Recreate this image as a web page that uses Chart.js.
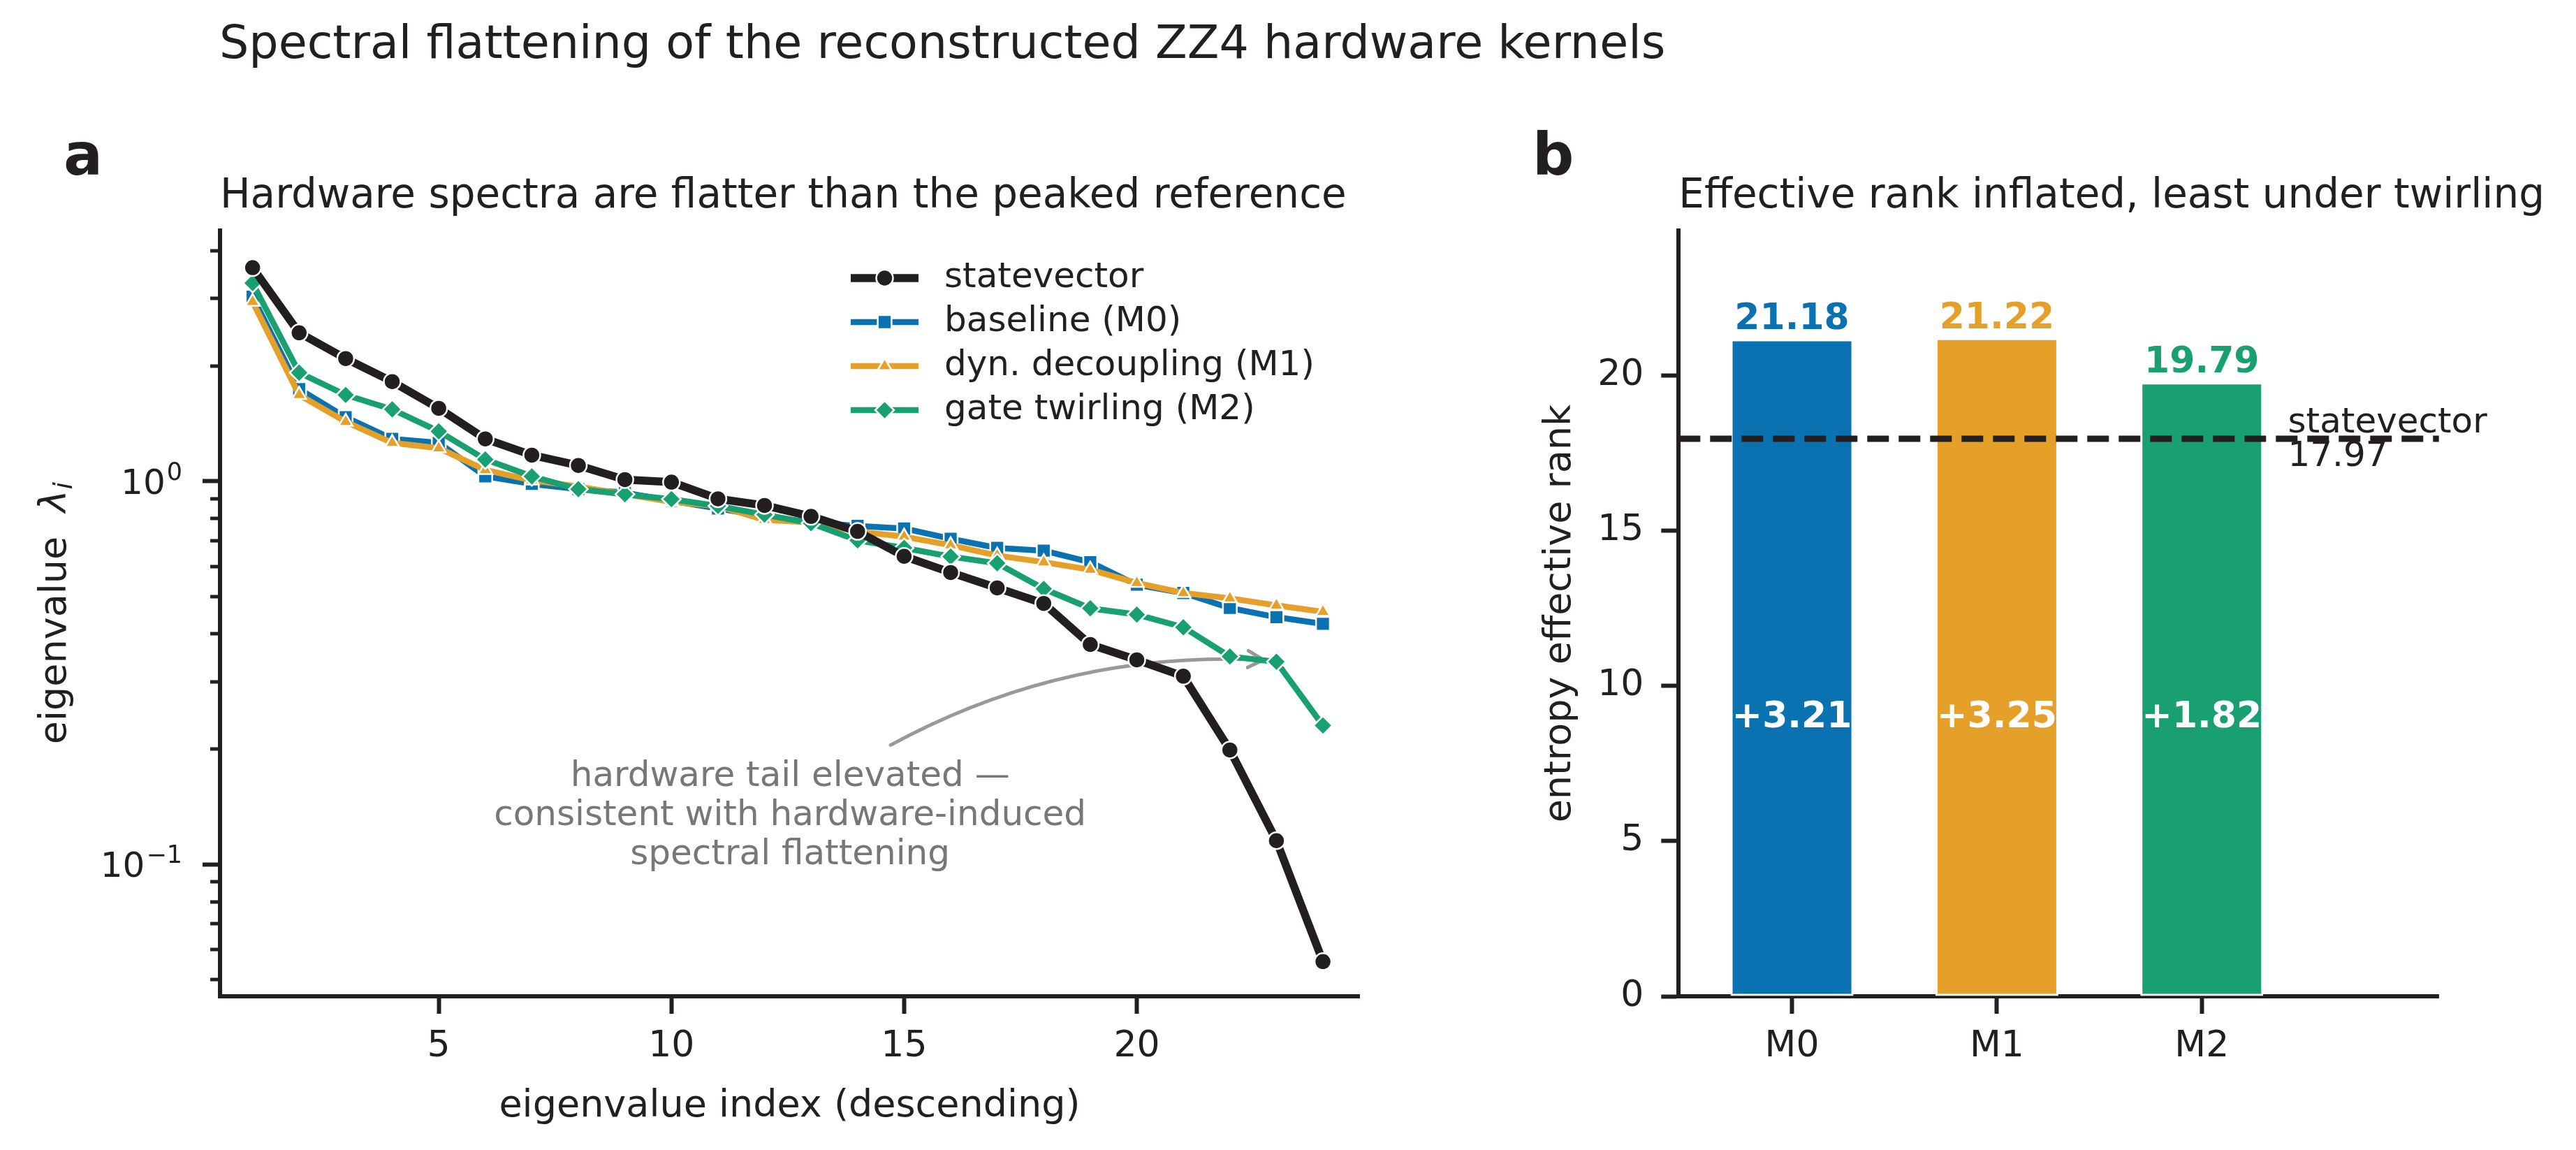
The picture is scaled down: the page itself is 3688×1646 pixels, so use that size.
<!DOCTYPE html>
<html>
<head>
<meta charset="utf-8">
<script src="https://cdn.jsdelivr.net/npm/chart.js@4.4.1/dist/chart.umd.min.js"></script>
<style>
  html, body { margin: 0; padding: 0; background: #fff; }
  #wrap { position: relative; width: 3688px; height: 1646px; }
  canvas { position: absolute; left: 0; top: 0; }
</style>
</head>
<body>
<div id="wrap">
  <canvas id="spectra" width="3688" height="1646"></canvas>
  <canvas id="rank" width="3688" height="1646"></canvas>
</div>
<script>
// eigenvalue spectra (panel a)
const eigIndex = [1, 2, 3, 4, 5, 6, 7, 8, 9, 10, 11, 12, 13, 14, 15, 16, 17, 18, 19, 20, 21, 22, 23, 24];
const statevector = [3.61, 2.44, 2.09, 1.82, 1.55, 1.29, 1.17, 1.10, 1.01, 0.995, 0.90, 0.865, 0.81, 0.74, 0.637, 0.578, 0.527, 0.48, 0.375, 0.342, 0.31, 0.199, 0.1154, 0.0558];
const baselineM0 = [3.03, 1.74, 1.47, 1.29, 1.26, 1.03, 0.984, 0.954, 0.934, 0.889, 0.849, 0.811, 0.781, 0.765, 0.753, 0.708, 0.670, 0.659, 0.615, 0.537, 0.511, 0.467, 0.442, 0.4245];
const decouplingM1 = [2.94, 1.68, 1.43, 1.26, 1.22, 1.07, 1.005, 0.969, 0.925, 0.884, 0.862, 0.793, 0.781, 0.739, 0.717, 0.681, 0.640, 0.615, 0.588, 0.543, 0.511, 0.495, 0.4745, 0.4565];
const twirlingM2 = [3.29, 1.92, 1.68, 1.54, 1.35, 1.14, 1.03, 0.954, 0.925, 0.898, 0.862, 0.818, 0.777, 0.701, 0.670, 0.636, 0.611, 0.524, 0.466, 0.449, 0.416, 0.349, 0.338, 0.2305];
const xTicksA = [5, 10, 15, 20];
const yTicksA = [0.05, 0.06, 0.07, 0.08, 0.09, 0.1, 0.2, 0.3, 0.4, 0.5, 0.6, 0.7, 0.8, 0.9, 1, 2, 3, 4];
const yMajorA = [0.1, 1];
const yMajorLabels = [['10', '\u22121'], ['10', '0']];

// effective rank (panel b)
const methods = ['M0', 'M1', 'M2'];
const effRank = [21.18, 21.22, 19.79];
const statevectorRank = 17.97;
const yTicksB = [0, 5, 10, 15, 20];

// annotation on panel a (data coords)
const noteLines = ['hardware tail elevated \u2014', 'consistent with hardware-induced', 'spectral flattening'];
const noteAt = {x: 12.55, y: 0.1266};
const arrowFrom = {x: 14.71, y: 0.205};
const arrowTo = {x: 22.72, y: 0.342};

const ink = '#231f20';
const blue = '#0b72b1', orange = '#e5a02a', green = '#18a070';
const FONT = "'DejaVu Sans'";

Chart.defaults.font.family = FONT;
Chart.defaults.color = ink;

const series = [
  {label: 'statevector', values: statevector, color: ink, width: 11.5, style: 'circle', r: 12, order: 0},
  {label: 'baseline (M0)', values: baselineM0, color: blue, width: 8.5, style: 'rect', r: 14, order: 3},
  {label: 'dyn. decoupling (M1)', values: decouplingM1, color: orange, width: 8.5, style: 'triangle', r: 11.5, order: 2},
  {label: 'gate twirling (M2)', values: twirlingM2, color: green, width: 8.5, style: 'rectRot', r: 13.5, order: 1}
];

function marker(ctx, s, x, y) {
  ctx.fillStyle = s.color;
  ctx.strokeStyle = '#fff';
  ctx.lineWidth = 2.5;
  Chart.helpers.drawPoint(ctx, {pointStyle: s.style, rotation: 0, radius: s.r, borderWidth: 2.5}, x, y);
}

const panelA = {
  id: 'panelA',
  beforeDatasetsDraw(chart) {
    const ctx = chart.ctx, xs = chart.scales.x, ys = chart.scales.y;
    // curved arrow (arc3-like)
    const p0 = {x: xs.getPixelForValue(arrowFrom.x), y: ys.getPixelForValue(arrowFrom.y)};
    const p2 = {x: xs.getPixelForValue(arrowTo.x), y: ys.getPixelForValue(arrowTo.y)};
    const rad = -0.14;
    const dx = p2.x - p0.x, dy = p2.y - p0.y;
    const c = {x: (p0.x + p2.x) / 2 - rad * dy, y: (p0.y + p2.y) / 2 + rad * dx};
    ctx.save();
    ctx.strokeStyle = '#999999';
    ctx.lineWidth = 5;
    ctx.lineCap = 'round';
    ctx.beginPath();
    ctx.moveTo(p0.x, p0.y);
    ctx.quadraticCurveTo(c.x, c.y, p2.x, p2.y);
    ctx.stroke();
    const ang = Math.atan2(p2.y - c.y, p2.x - c.x);
    const hl = 25;
    ctx.beginPath();
    ctx.moveTo(p2.x - hl * Math.cos(ang - 0.5), p2.y - hl * Math.sin(ang - 0.5));
    ctx.lineTo(p2.x, p2.y);
    ctx.lineTo(p2.x - hl * Math.cos(ang + 0.5), p2.y - hl * Math.sin(ang + 0.5));
    ctx.stroke();
    // note text
    ctx.fillStyle = '#777777';
    ctx.font = '50px ' + FONT;
    ctx.textAlign = 'center';
    ctx.textBaseline = 'alphabetic';
    const tx = xs.getPixelForValue(noteAt.x), ty = ys.getPixelForValue(noteAt.y);
    noteLines.forEach((t, i) => ctx.fillText(t, tx, ty + (i - 1) * 56));
    ctx.restore();
  },
  afterDraw(chart) {
    const ctx = chart.ctx, ca = chart.chartArea, ys = chart.scales.y;
    ctx.save();
    // minor ticks on the log axis
    ctx.strokeStyle = ink;
    ctx.lineWidth = 5;
    yTicksA.filter(v => !yMajorA.includes(v)).forEach(v => {
      const py = Math.round(ys.getPixelForValue(v));
      ctx.beginPath();
      ctx.moveTo(ca.left - 14, py);
      ctx.lineTo(ca.left - 2, py);
      ctx.stroke();
    });
    // decade labels 10^k
    ctx.fillStyle = ink;
    ctx.textBaseline = 'alphabetic';
    ctx.textAlign = 'left';
    yMajorA.forEach((v, i) => {
      const py = ys.getPixelForValue(v);
      const [b, e] = yMajorLabels[i];
      ctx.font = '50px ' + FONT; const wb = ctx.measureText(b).width;
      ctx.font = '35px ' + FONT; const we = ctx.measureText(e).width;
      const x0 = ca.left - 56 - wb - we;
      ctx.font = '50px ' + FONT; ctx.fillText(b, x0, py + 18);
      ctx.font = '35px ' + FONT; ctx.fillText(e, x0 + wb + 2, py - 2);
    });
    // legend
    const lx0 = ca.right - 728, lx1 = ca.right - 631, ltx = ca.right - 594;
    series.forEach((s, i) => {
      const ly = ca.top + 68 + i * 63;
      ctx.strokeStyle = s.color;
      ctx.lineWidth = s.width;
      ctx.beginPath();
      ctx.moveTo(lx0, ly);
      ctx.lineTo(lx1, ly);
      ctx.stroke();
      marker(ctx, s, (lx0 + lx1) / 2, ly);
      ctx.fillStyle = ink;
      ctx.font = '50px ' + FONT;
      ctx.textAlign = 'left';
      ctx.textBaseline = 'middle';
      ctx.fillText(s.label, ltx, ly);
    });
    // titles
    ctx.fillStyle = ink;
    ctx.textAlign = 'left';
    ctx.textBaseline = 'alphabetic';
    ctx.font = '66.7px ' + FONT;
    ctx.fillText('Spectral flattening of the reconstructed ZZ4 hardware kernels', 314, 83);
    ctx.font = '58px ' + FONT;
    ctx.fillText('Hardware spectra are flatter than the peaked reference', ca.left, ca.top - 33);
    ctx.font = 'bold 83px ' + FONT;
    ctx.fillText('a', 91, 250);
    // y label: eigenvalue λ_i
    ctx.translate(75, (ca.top + ca.bottom) / 2);
    ctx.rotate(-Math.PI / 2);
    const f1 = '54px ' + FONT, f2 = 'italic 54px ' + FONT, f3 = 'italic 38px ' + FONT;
    ctx.font = f1; const w1 = ctx.measureText('eigenvalue  ').width;
    ctx.font = f2; const w2 = ctx.measureText('\u03bb').width;
    ctx.font = f3; const w3 = ctx.measureText('i').width;
    const x0 = -(w1 + w2 + w3) / 2;
    const base = 19;
    ctx.font = f1; ctx.fillText('eigenvalue  ', x0, base);
    ctx.font = f2; ctx.fillText('\u03bb', x0 + w1, base);
    ctx.font = f3; ctx.fillText('i', x0 + w1 + w2 + 1, base + 9);
    ctx.restore();
  }
};

new Chart(document.getElementById('spectra'), {
  type: 'line',
  data: {
    datasets: series.map(s => ({
      label: s.label,
      data: eigIndex.map((x, i) => ({x: x, y: s.values[i]})),
      borderColor: s.color,
      backgroundColor: s.color,
      borderWidth: s.width,
      borderJoinStyle: 'round',
      pointStyle: s.style,
      pointRadius: s.r,
      pointBackgroundColor: s.color,
      pointBorderColor: '#fff',
      pointBorderWidth: 2.5,
      tension: 0,
      order: s.order
    }))
  },
  options: {
    responsive: false,
    animation: false,
    devicePixelRatio: 1,
    layout: {padding: {left: 0, right: 3688 - 1946, top: 330, bottom: 0}},
    plugins: {legend: {display: false}, tooltip: {enabled: false}, title: {display: false}},
    scales: {
      x: {
        type: 'linear',
        min: 0.3,
        max: 24.78,
        afterBuildTicks: s => { s.ticks = xTicksA.map(v => ({value: v})); },
        afterFit: s => { s.height = 220; },
        grid: {display: true, drawOnChartArea: false, tickLength: 25, tickWidth: 6, tickColor: ink},
        border: {display: true, color: ink, width: 6},
        ticks: {font: {size: 52}, color: ink, padding: 16, maxRotation: 0, autoSkip: false},
        title: {display: true, text: 'eigenvalue index (descending)', font: {size: 54}, color: ink, padding: {top: 0, bottom: 30}}
      },
      y: {
        type: 'logarithmic',
        min: 0.0453,
        max: 4.51,
        afterBuildTicks: s => { s.ticks = yTicksA.map(v => ({value: v, major: yMajorA.includes(v)})); },
        afterFit: s => { s.width = 315; },
        grid: {
          display: true, drawOnChartArea: false, tickLength: 25, tickWidth: 6,
          tickColor: c => (c.tick && c.tick.major) ? ink : 'rgba(0,0,0,0)'
        },
        border: {display: true, color: ink, width: 6},
        ticks: {font: {size: 52}, color: ink, padding: 33, autoSkip: false, callback: () => ''}
      }
    }
  },
  plugins: [panelA]
});

// panel b
const barColors = [blue, orange, green];

const panelB = {
  id: 'panelB',
  afterDatasetsDraw(chart) {
    const ctx = chart.ctx, ca = chart.chartArea, xs = chart.scales.x, ys = chart.scales.y;
    ctx.save();
    // statevector reference line
    const ly = ys.getPixelForValue(statevectorRank);
    ctx.strokeStyle = ink;
    ctx.lineWidth = 9;
    ctx.setLineDash([31, 14]);
    ctx.beginPath();
    ctx.moveTo(ca.left, ly);
    ctx.lineTo(ca.right, ly);
    ctx.stroke();
    ctx.setLineDash([]);
    ctx.font = '50px ' + FONT;
    ctx.fillStyle = ink;
    ctx.textAlign = 'left';
    ctx.textBaseline = 'alphabetic';
    const sx = xs.getPixelForValue(2.42);
    ctx.fillText('statevector', sx, ly - 9);
    ctx.fillText(statevectorRank.toFixed(2), sx, ly + 39);
    // bar labels
    const meta = chart.getDatasetMeta(0);
    meta.data.forEach((bar, i) => {
      ctx.font = 'bold 52px ' + FONT;
      ctx.textAlign = 'center';
      ctx.textBaseline = 'alphabetic';
      ctx.fillStyle = barColors[i];
      ctx.fillText(effRank[i].toFixed(2), bar.x, bar.y - 14);
      ctx.fillStyle = '#fff';
      ctx.textBaseline = 'middle';
      const gain = effRank[i] - statevectorRank;
      ctx.fillText('+' + gain.toFixed(2), bar.x, ys.getPixelForValue(statevectorRank / 2));
    });
    // title
    ctx.fillStyle = ink;
    ctx.textAlign = 'left';
    ctx.textBaseline = 'alphabetic';
    ctx.font = '58px ' + FONT;
    ctx.fillText('Effective rank inflated, least under twirling', ca.left, ca.top - 33);
    ctx.font = 'bold 83px ' + FONT;
    ctx.fillText('b', 2194, 250);
    ctx.restore();
  }
};

new Chart(document.getElementById('rank'), {
  type: 'bar',
  data: {
    datasets: [{
      data: methods.map((m, i) => ({x: i, y: effRank[i]})),
      backgroundColor: barColors,
      borderColor: '#ffffff',
      borderWidth: 3,
      borderSkipped: false,
      barPercentage: 0.6,
      categoryPercentage: 1
    }]
  },
  options: {
    responsive: false,
    animation: false,
    devicePixelRatio: 1,
    layout: {padding: {left: 2150, right: 3688 - 3491.7, top: 330, bottom: 0}},
    plugins: {legend: {display: false}, tooltip: {enabled: false}, title: {display: false}},
    scales: {
      x: {
        type: 'linear',
        min: -0.553,
        max: 3.157,
        offset: false,
        afterBuildTicks: s => { s.ticks = methods.map((m, i) => ({value: i})); },
        afterFit: s => { s.height = 220; },
        grid: {display: true, offset: false, drawOnChartArea: false, tickLength: 25, tickWidth: 6, tickColor: ink},
        border: {display: true, color: ink, width: 6},
        ticks: {font: {size: 52}, color: ink, padding: 16, maxRotation: 0, autoSkip: false,
          callback: v => methods[v]}
      },
      y: {
        type: 'linear',
        min: 0,
        max: 24.68,
        afterBuildTicks: s => { s.ticks = yTicksB.map(v => ({value: v})); },
        afterFit: s => { s.width = 253.3; },
        grid: {display: true, drawOnChartArea: false, tickLength: 25, tickWidth: 6, tickColor: ink},
        border: {display: true, color: ink, width: 6},
        ticks: {font: {size: 52}, color: ink, padding: 25, autoSkip: false},
        title: {display: true, text: 'entropy effective rank', font: {size: 54}, color: ink, padding: {top: 52, bottom: 0}}
      }
    }
  },
  plugins: [panelB]
});
</script>
</body>
</html>
